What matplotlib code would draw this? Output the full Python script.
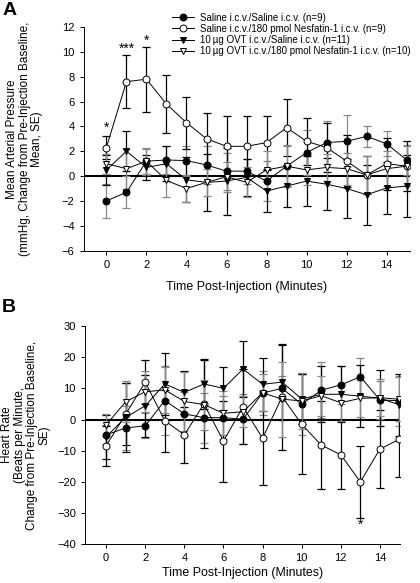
import numpy as np
import matplotlib
matplotlib.use("Agg")
import matplotlib.pyplot as plt

plt.rcParams['font.family'] = ['Liberation Sans', 'DejaVu Sans']

t = np.arange(16)

labels = ["Saline i.c.v./Saline i.c.v. (n=9)",
          "Saline i.c.v./180 pmol Nesfatin-1 i.c.v. (n=9)",
          "10\u2009\u00b5g OVT i.c.v./Saline i.c.v. (n=11)",
          "10\u2009\u00b5g OVT i.c.v./180 pmol Nesfatin-1 i.c.v. (n=10)"]

# panel A - mean arterial pressure
map_sal_sal = [-2.0, -1.3, 1.2, 1.3, 1.25, 0.9, 0.4, 0.4, -0.4, 0.8, 1.9, 2.7, 2.8, 3.2, 2.6, 1.3]
map_sal_nes = [2.3, 7.6, 7.8, 5.8, 4.3, 3.0, 2.4, 2.4, 2.7, 3.9, 2.8, 2.3, 1.2, 0.1, 1.0, 0.8]
map_ovt_sal = [0.5, 2.0, 0.7, 1.0, -0.3, -0.5, -0.4, -0.1, -1.2, -0.8, -0.4, -0.65, -1.0, -1.5, -0.95, -0.8]
map_ovt_nes = [1.0, 0.6, 1.2, -0.35, -1.0, -0.5, -0.05, -0.5, 0.5, 0.8, 0.5, 0.7, 0.6, 0.1, 0.6, 0.8]
map_se_sal_sal = [1.4, 1.3, 1.1, 1.1, 1.2, 1.5, 1.5, 1.0, 1.6, 1.6, 1.8, 1.7, 2.1, 0.85, 1.0, 1.2]
map_se_sal_nes = [0.9, 2.15, 2.6, 2.3, 2.1, 2.05, 2.4, 2.4, 2.1, 2.3, 1.9, 2.0, 2.1, 1.5, 2.1, 2.0]
map_se_ovt_sal = [1.2, 1.6, 1.0, 1.4, 1.8, 2.3, 2.7, 1.5, 1.7, 1.7, 2.0, 2.1, 2.4, 2.4, 2.1, 2.5]
map_se_ovt_nes = [0.8, 1.6, 1.0, 1.3, 1.1, 1.1, 1.2, 1.2, 1.5, 1.7, 1.2, 1.1, 1.3, 1.5, 1.4, 1.6]

# panel B - heart rate
hr_sal_sal = [-4.9, -2.7, -2.0, 6.1, 1.8, 0.6, 0.6, 0.1, 8.5, 10.0, 4.9, 9.4, 11.1, 13.7, 6.3, 6.0]
hr_sal_nes = [-8.4, 1.7, 12.0, -0.4, -4.9, 5.0, -6.9, 4.1, -6.0, 7.3, -1.5, -8.2, -11.3, -20.0, -9.5, -6.3]
hr_ovt_sal = [-5.5, 0.7, 4.4, 11.4, 8.7, 11.4, 10.0, 16.2, 11.3, 12.0, 6.6, 8.1, 8.1, 7.5, 6.8, 4.7]
hr_ovt_nes = [-1.7, 5.7, 8.9, 9.5, 5.8, 4.8, 2.0, 2.5, 8.6, 6.5, 6.0, 7.6, 5.4, 6.8, 7.0, 6.5]
hr_se_sal_sal = [3, 7, 4, 11, 7, 8, 7, 8, 7, 4, 10, 9, 6, 6, 6, 8]
hr_se_sal_nes = [6.4, 10, 7, 10, 9, 14, 13, 12, 15, 17, 16, 14, 11, 11.5, 12.5, 12]
hr_se_ovt_sal = [7, 11, 10, 10, 7, 8, 7, 9, 8.5, 12, 8, 9, 9, 10, 9, 10]
hr_se_ovt_nes = [3.5, 6.5, 6.5, 7.5, 9.5, 8, 7, 5, 6, 12, 9, 6.5, 6, 6, 6, 7]

styles = [dict(marker='o', mfc='black', ecol='#888888'),
          dict(marker='o', mfc='white', ecol='black'),
          dict(marker='v', mfc='black', ecol='black'),
          dict(marker='v', mfc='white', ecol='#888888')]


def draw(ax, series, errs, xpad):
    handles = []
    for y, e, st in zip(series, errs, styles):
        ax.errorbar(t, y, yerr=e, fmt='none', ecolor=st['ecol'], elinewidth=0.9,
                    capsize=3, capthick=0.9, zorder=2)
        h, = ax.plot(t, y, color='black', lw=0.7, marker=st['marker'], ms=5,
                     mfc=st['mfc'], mec='black', mew=0.7, zorder=3)
        handles.append(h)
    ax.axhline(0, color='black', lw=1.5, zorder=1)
    for s in ['top', 'right']:
        ax.spines[s].set_visible(False)
    ax.spines['left'].set_linewidth(0.7)
    ax.spines['bottom'].set_linewidth(0.7)
    ax.set_xticks(range(0, 15, 2))
    ax.tick_params(labelsize=8, length=3, width=0.7)
    ax.set_xlabel("Time Post-Injection (Minutes)", fontsize=8.9, labelpad=xpad)
    return handles


fig = plt.figure(figsize=(4.2, 5.83), dpi=100)

axA = fig.add_axes([0.199, 0.570, 0.777, 0.3837])
hA = draw(axA, [map_sal_sal, map_sal_nes, map_ovt_sal, map_ovt_nes],
          [map_se_sal_sal, map_se_sal_nes, map_se_ovt_sal, map_se_ovt_nes], 8)
axA.set_xlim(-1.14, 15.16)
axA.set_ylim(-6, 12)
axA.set_yticks(range(-6, 13, 2))
axA.set_ylabel("Mean Arterial Pressure\n(mmHg, Change from Pre-Injection Baseline,\nMean, SE)",
               fontsize=8.5, linespacing=1.05)
axA.yaxis.set_label_coords(-0.124, 0.5)
axA.text(0, 3.6, "*", ha='center', fontsize=10)
axA.text(1, 9.9, "***", ha='center', fontsize=10)
axA.text(2, 10.6, "*", ha='center', fontsize=10)
fig.legend(hA, labels, loc='upper left', bbox_to_anchor=(0.40, 0.985), frameon=False,
           fontsize=7.0, handlelength=2.3, handletextpad=0.6, labelspacing=0.12,
           borderaxespad=0)

axB = fig.add_axes([0.202, 0.0664, 0.75, 0.3745])
draw(axB, [hr_sal_sal, hr_sal_nes, hr_ovt_sal, hr_ovt_nes],
     [hr_se_sal_sal, hr_se_sal_nes, hr_se_ovt_sal, hr_se_ovt_nes], 3)
axB.set_xlim(-1.09, 15.02)
axB.set_ylim(-40, 30)
axB.set_yticks(range(-40, 31, 10))
axB.set_ylabel("Heart Rate\n(Beats per Minute,\nChange from Pre-Injection Baseline,\nSE)",
               fontsize=8.5, linespacing=1.05)
axB.yaxis.set_label_coords(-0.108, 0.5)
axB.text(13, -35, "*", ha='center', fontsize=10)

fig.text(0.005, 0.997, "A", fontsize=14, fontweight='bold', va='top')
fig.text(0.005, 0.487, "B", fontsize=14, fontweight='bold', va='top')

fig.savefig("out.png", dpi=100)
